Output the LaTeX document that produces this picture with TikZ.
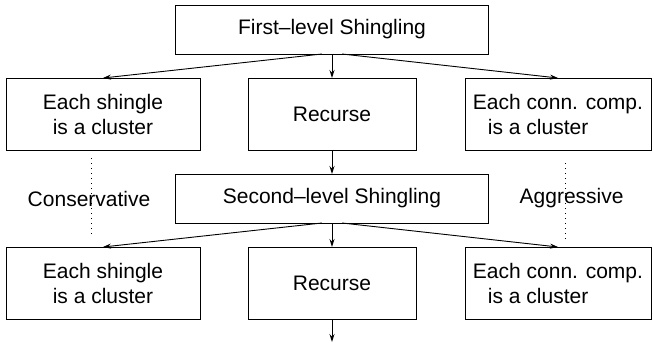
\documentclass[tikz,border=0pt]{standalone}
\usepackage{fontspec}
\setmainfont{Liberation Sans}
\usetikzlibrary{arrows.meta, positioning}

\begin{document}
\begin{tikzpicture}[
      x=1pt, y=1pt,
      box/.style={rectangle, draw, line width=0.9pt, outer sep=0pt,
                  minimum height=72pt, inner sep=2pt,
                  font=\fontsize{21}{25}\selectfont, align=center},
      wide/.style={minimum width=313pt, minimum height=49pt},
      lbl/.style={font=\fontsize{21}{25}\selectfont, inner sep=0pt},
      arr/.style={-{Stealth[length=8pt, width=5pt]}, line width=0.9pt},
      dotline/.style={line width=0.9pt, dash pattern=on 1pt off 4pt},
      node distance=24pt and 48pt
    ]
    \useasboundingbox (0,0) rectangle (654,-343);
    \node[box, wide] (first) at (332,-29.5) {First--level Shingling};
    \node[box, minimum width=168pt, below=of first] (rec1) {Recurse};
    \node[box, minimum width=194pt, left=of rec1] (shin1) {Each shingle\\is a cluster};
    \node[box, minimum width=186pt, right=49pt of rec1, align=left] (conn1) {Each conn. comp.\\\hspace*{15pt}is a cluster};
    \node[box, wide, below=of rec1] (second) {Second--level Shingling};
    \node[lbl, left=25pt of second] (cons) {Conservative};
    \node[lbl, right=31pt of second] (aggr) {Aggressive};
    \node[box, minimum width=168pt, below=of second] (rec2) {Recurse};
    \node[box, minimum width=194pt, left=of rec2] (shin2) {Each shingle\\is a cluster};
    \node[box, minimum width=186pt, right=49pt of rec2, align=left] (conn2) {Each conn. comp.\\\hspace*{15pt}is a cluster};
    \coordinate[below=23pt of rec2.south] (out);

    \draw[arr] ([xshift=-10pt]first.south) -- (shin1.north);
    \draw[arr] (first.south) -- (rec1.north);
    \draw[arr] ([xshift=10pt]first.south) -- (conn1.north);
    \draw[arr] (rec1.south) -- (second.north);
    \draw[arr] ([xshift=-10pt]second.south) -- (shin2.north);
    \draw[arr] (second.south) -- (rec2.north);
    \draw[arr] ([xshift=10pt]second.south) -- (conn2.north);
    \draw[arr] (rec2.south) -- (out);
    \draw[dotline] ([shift={(-12pt,-8pt)}]shin1.south) -- ([shift={(-12pt,13pt)}]shin2.north);
    \draw[dotline] ([shift={(7pt,-13pt)}]conn1.south) -- ([shift={(7pt,6pt)}]conn2.north);
  \end{tikzpicture}
\end{document}
